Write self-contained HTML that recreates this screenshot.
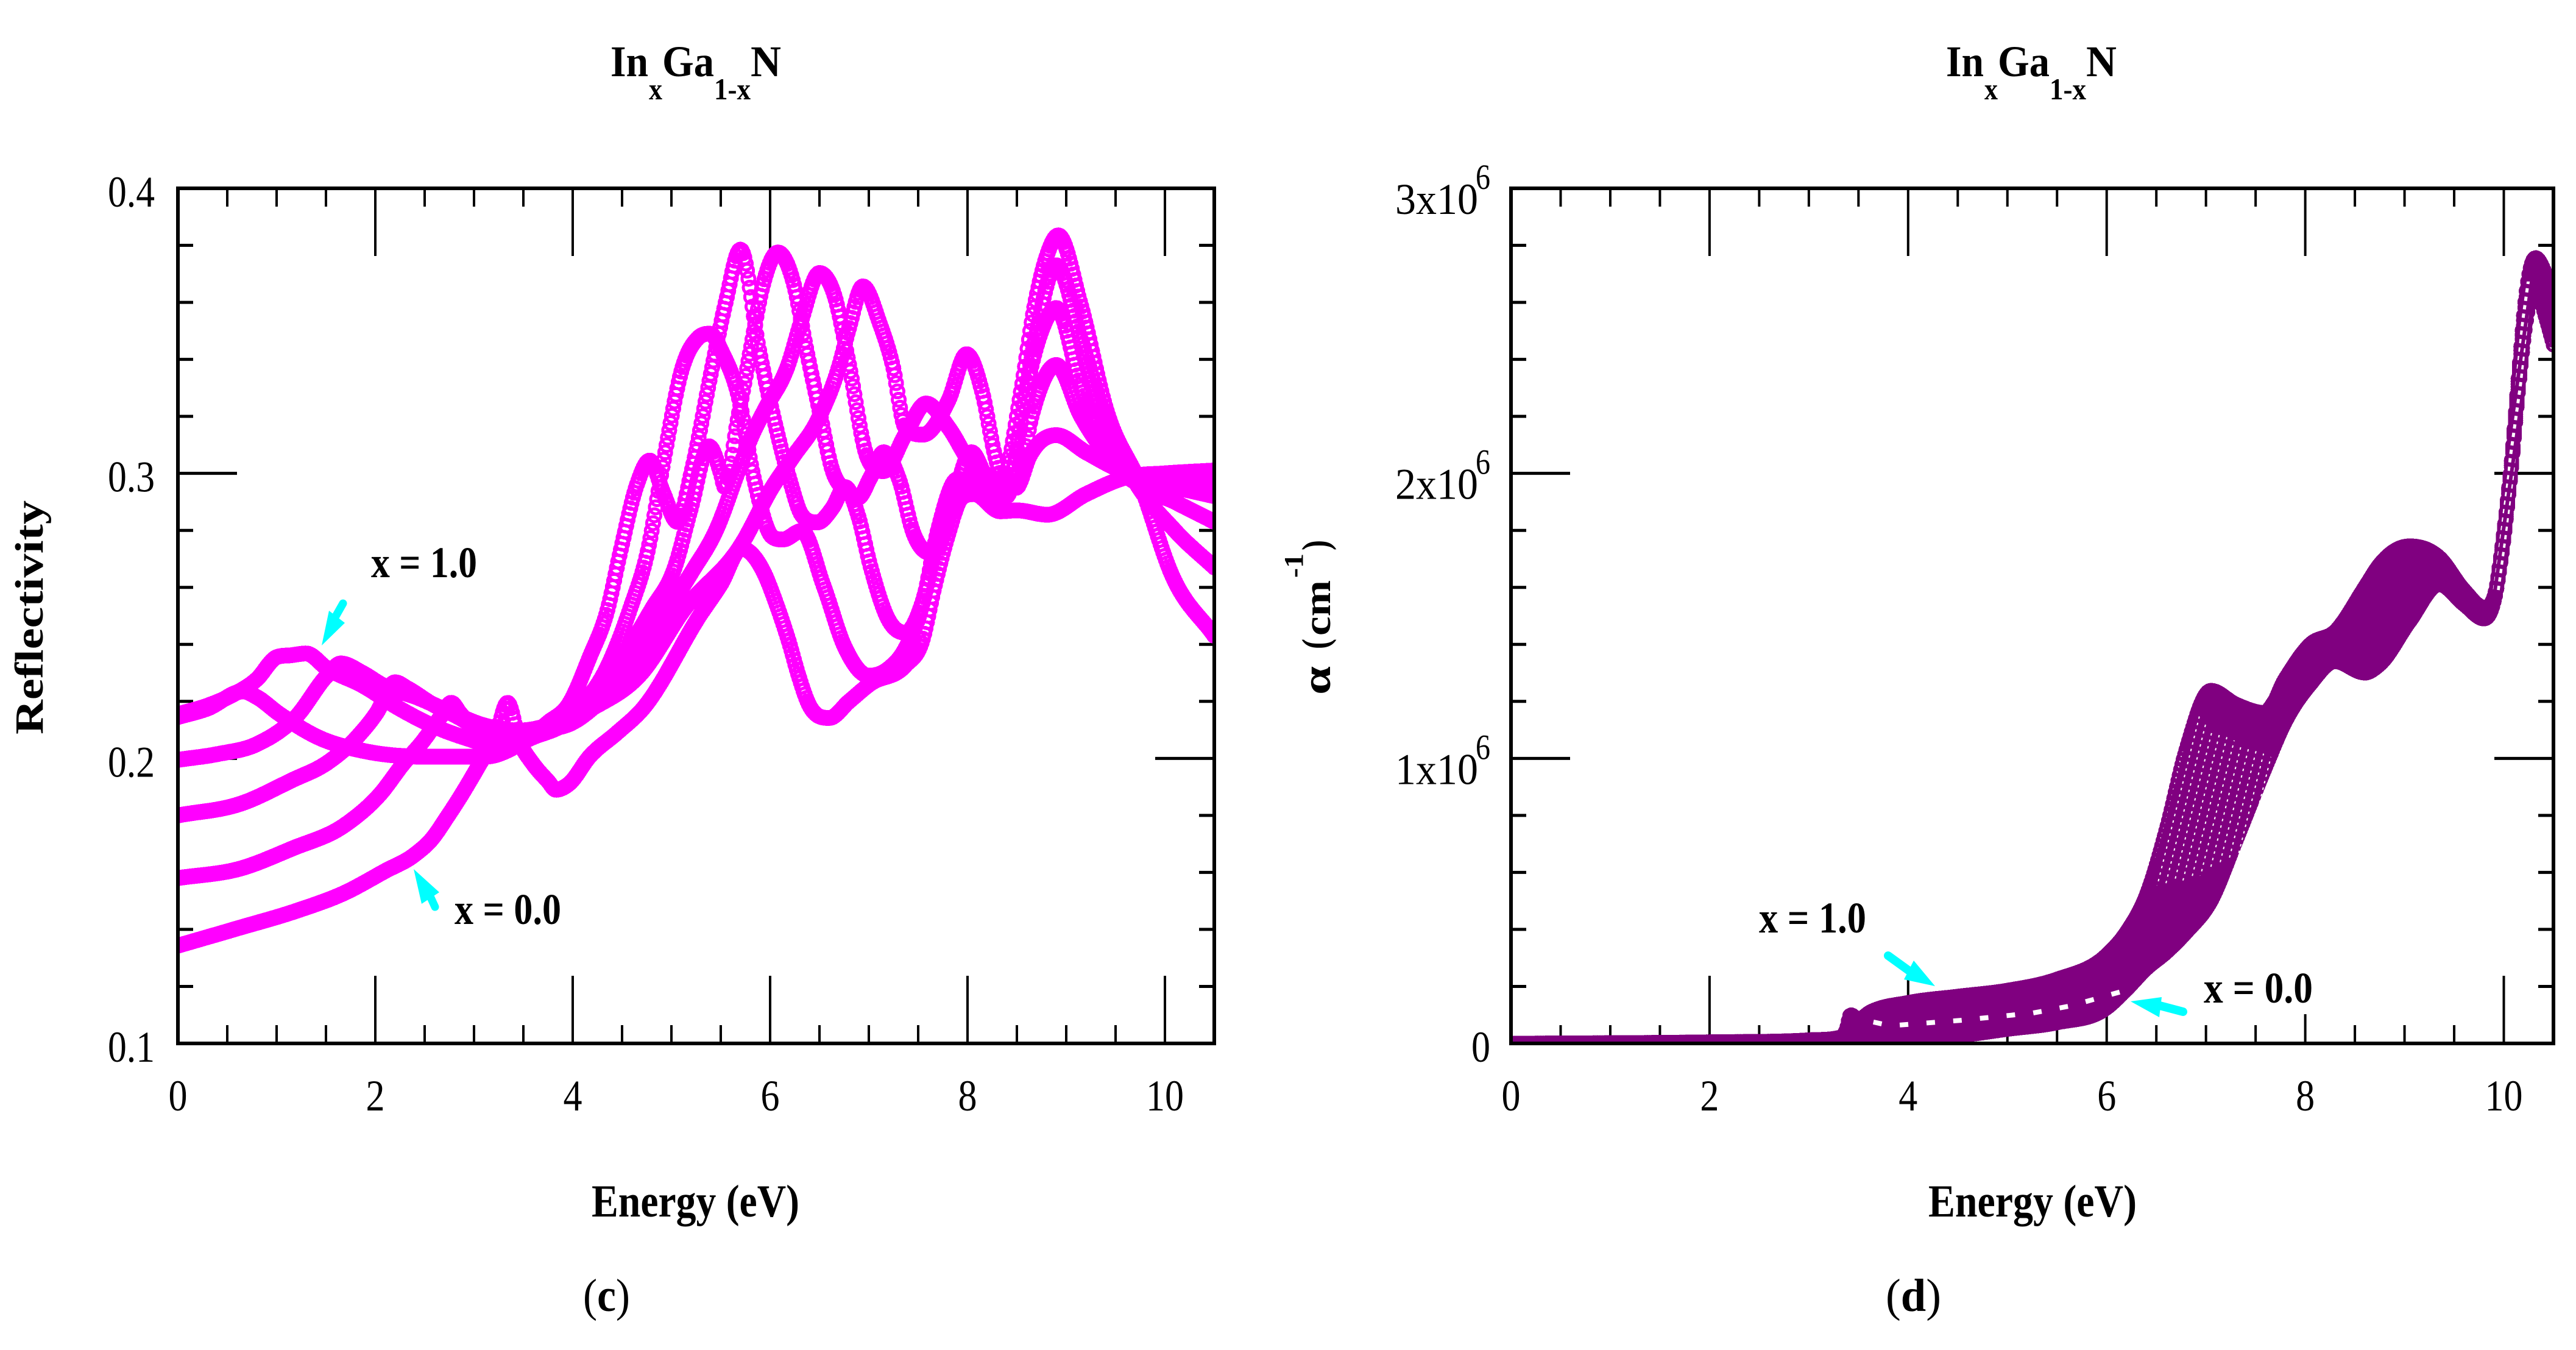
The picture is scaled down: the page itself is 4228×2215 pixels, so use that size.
<!DOCTYPE html>
<html lang="en">
<head>
<meta charset="utf-8">
<title>InxGa1-xN reflectivity and absorption</title>
<style>
html,body{margin:0;padding:0;background:#fff;}
svg{display:block;}
text{font-family:"Liberation Serif",serif;fill:#000;}
</style>
</head>
<body>
<svg id="figure" xmlns="http://www.w3.org/2000/svg" width="4228" height="2215" viewBox="0 0 4228 2215">
  <rect x="0" y="0" width="4228" height="2215" fill="#fff"/>
  <defs>
    <clipPath id="clip-c"><rect x="292" y="309" width="1701" height="1403"/></clipPath>
    <clipPath id="clip-d"><rect x="2480" y="309" width="1711" height="1403"/></clipPath>
    <pattern id="stipple" width="13" height="11" patternUnits="userSpaceOnUse" patternTransform="rotate(14)">
      <rect x="3" y="3" width="2" height="4" fill="#fff"/>
    </pattern>
    <pattern id="ring-holes" width="11" height="14" patternUnits="userSpaceOnUse" patternTransform="rotate(8)">
      <rect x="2" y="3" width="5" height="7" fill="#fff"/>
    </pattern>
  </defs>
  <g id="panel-c"></g>
  <g id="panel-d"></g>

  <g font-weight="bold">
    <text x="1002" y="125" font-size="72" textLength="62" lengthAdjust="spacingAndGlyphs">In</text>
    <text x="1065" y="163" font-size="50" textLength="22" lengthAdjust="spacingAndGlyphs">x</text>
    <text x="1087" y="125" font-size="72" textLength="85" lengthAdjust="spacingAndGlyphs">Ga</text>
    <text x="1172" y="163" font-size="50" textLength="60" lengthAdjust="spacingAndGlyphs">1-x</text>
    <text x="1232" y="125" font-size="72" textLength="50" lengthAdjust="spacingAndGlyphs">N</text>
  </g>
  <g font-weight="bold">
    <text x="3194" y="125" font-size="72" textLength="62" lengthAdjust="spacingAndGlyphs">In</text>
    <text x="3257" y="163" font-size="50" textLength="22" lengthAdjust="spacingAndGlyphs">x</text>
    <text x="3279" y="125" font-size="72" textLength="85" lengthAdjust="spacingAndGlyphs">Ga</text>
    <text x="3364" y="163" font-size="50" textLength="60" lengthAdjust="spacingAndGlyphs">1-x</text>
    <text x="3424" y="125" font-size="72" textLength="50" lengthAdjust="spacingAndGlyphs">N</text>
  </g>

  <text x="971" y="1996" font-size="75" font-weight="bold" textLength="341" lengthAdjust="spacingAndGlyphs">Energy (eV)</text>
  <text x="3165" y="1996" font-size="75" font-weight="bold" textLength="342" lengthAdjust="spacingAndGlyphs">Energy (eV)</text>
  <text transform="translate(70,1205) rotate(-90)" font-size="66" font-weight="bold" textLength="384" lengthAdjust="spacingAndGlyphs">Reflectivity</text>

  <g font-weight="bold">
    <text transform="translate(2183,1140) rotate(-90)" font-size="66" textLength="47" lengthAdjust="spacingAndGlyphs" font-family="'Liberation Serif','DejaVu Serif',serif">α</text>
    <text transform="translate(2180,1065) rotate(-90)" font-size="62" textLength="17" lengthAdjust="spacingAndGlyphs">(</text>
    <text transform="translate(2183,1043) rotate(-90)" font-size="62" textLength="91" lengthAdjust="spacingAndGlyphs">cm</text>
    <text transform="translate(2138,948) rotate(-90)" font-size="44" textLength="40" lengthAdjust="spacingAndGlyphs">-1</text>
    <text transform="translate(2180,903) rotate(-90)" font-size="62" textLength="17" lengthAdjust="spacingAndGlyphs">)</text>
  </g>

  <text x="957" y="2151" font-size="76" textLength="77" lengthAdjust="spacingAndGlyphs">(<tspan font-weight="bold">c</tspan>)</text>
  <text x="3095" y="2151" font-size="76" textLength="91" lengthAdjust="spacingAndGlyphs">(<tspan font-weight="bold">d</tspan>)</text>

  <text x="609" y="947" font-size="72" font-weight="bold" textLength="174" lengthAdjust="spacingAndGlyphs">x = 1.0</text>
  <text x="746" y="1516" font-size="72" font-weight="bold" textLength="175" lengthAdjust="spacingAndGlyphs">x = 0.0</text>
  <text x="2887" y="1530" font-size="72" font-weight="bold" textLength="176" lengthAdjust="spacingAndGlyphs">x = 1.0</text>
  <text x="3617" y="1645" font-size="72" font-weight="bold" textLength="179" lengthAdjust="spacingAndGlyphs">x = 0.0</text>

  <g fill="#0ff" stroke="#0ff">
    <line x1="563" y1="990" x2="546" y2="1020" stroke-width="13" stroke-linecap="round"/>
    <polygon points="528,1059 540,1002 566,1022" stroke="none"/>
  </g>
  <g fill="#0ff" stroke="#0ff">
    <line x1="714" y1="1488" x2="702" y2="1462" stroke-width="13" stroke-linecap="round"/>
    <polygon points="679,1426 692,1483 721,1464" stroke="none"/>
  </g>
  <g fill="#0ff" stroke="#0ff">
    <line x1="3099" y1="1568" x2="3135" y2="1594" stroke-width="14" stroke-linecap="round"/>
    <polygon points="3176,1618 3125,1607 3141,1576" stroke="none"/>
  </g>
  <g fill="#0ff" stroke="#0ff">
    <line x1="3583" y1="1660" x2="3545" y2="1650" stroke-width="14" stroke-linecap="round"/>
    <polygon points="3497,1643 3544,1669 3548,1636" stroke="none"/>
  </g>
</svg>

<script>
// ---------- Panel (c): reflectivity values ----------
const energyA = [0,.3,.66,.8,1.02,1.44,1.87,2.51,3.11,3.46,3.75,3.96,4.17,4.35,4.49,4.65,4.78,4.92,5.06,5.2,5.4,5.55,5.7,5.89,6.02,6.2,6.32,6.48,6.63,6.76,6.89,7.02,7.2,7.37,7.54,7.67,7.81,8.0,8.2,8.37,8.54,8.68,8.8,8.92,9.15,9.41,9.76,10.07,10.5];
const reflA = [.2145,.2175,.2235,.2215,.2158,.2071,.2027,.2006,.2006,.205,.2126,.219,.2354,.2518,.2736,.296,.3045,.293,.283,.300,.335,.36,.3785,.343,.322,.2976,.2854,.2828,.2878,.2952,.2854,.267,.2486,.2441,.2545,.2727,.289,.297,.294,.298,.3284,.3589,.376,.3835,.3589,.322,.2952,.2644,.243];
const energyB = [0,.3,.56,.8,1.0,1.15,1.3,1.51,1.87,2.22,2.58,2.93,3.29,3.57,4.0,4.35,4.58,4.76,4.93,5.11,5.27,5.39,5.52,5.67,5.84,6.02,6.13,6.32,6.54,6.76,7.0,7.2,7.37,7.54,7.7,7.9,8.15,8.4,8.55,8.7,8.9,9.15,9.41,9.65,10.1,10.5];
const reflB = [.2155,.2185,.2224,.2278,.2355,.2362,.2368,.2316,.2256,.218,.2115,.207,.2038,.207,.2158,.232,.2523,.2727,.3061,.3369,.3475,.349,.342,.3284,.2976,.2778,.2768,.2798,.2608,.2388,.229,.2315,.2385,.2535,.28,.298,.296,.292,.32,.35,.373,.347,.318,.30,.28,.267];
const energyC = [0,.4,.8,1.2,1.51,1.65,1.87,2.08,2.43,2.79,3.11,3.46,3.75,4.0,4.35,4.8,5.03,5.2,5.38,5.5,5.54,5.67,5.8,5.93,6.08,6.24,6.37,6.5,6.63,6.76,6.89,7.02,7.15,7.31,7.45,7.63,7.81,8.04,8.2,8.33,8.45,8.6,8.75,8.9,9.15,9.41,9.7,10.1,10.5];
const reflC = [.1995,.2015,.205,.2147,.229,.2333,.23,.2256,.2213,.2158,.2115,.2098,.2115,.2147,.2278,.2523,.2666,.288,.3095,.30,.2952,.3185,.3431,.3664,.3775,.3664,.3431,.322,.3012,.294,.2914,.2988,.3074,.2976,.2792,.272,.2854,.3074,.2976,.292,.30,.33,.35,.358,.33,.31,.297,.29,.283];
const energyD = [0,.627,1.16,1.51,1.83,2.01,2.2,2.33,2.58,2.83,3.11,3.29,3.57,4.0,4.35,4.7,4.97,5.2,5.46,5.69,5.81,5.94,6.18,6.32,6.5,6.65,6.8,6.98,7.15,7.37,7.58,7.81,8.03,8.26,8.5,8.65,8.9,9.15,9.4,9.7,10.1,10.5];
const reflD = [.18,.184,.1924,.1984,.208,.2158,.2267,.2245,.219,.2147,.2093,.208,.2098,.2126,.2224,.2365,.2523,.265,.2806,.302,.3128,.322,.3378,.354,.3703,.3626,.3382,.3061,.3008,.3136,.3245,.316,.3038,.2985,.295,.32,.338,.32,.307,.297,.295,.292];
const energyE = [0,.627,1.16,1.69,2.05,2.29,2.47,2.66,2.77,2.86,3.11,3.46,3.75,4.17,4.7,5.13,5.71,6.02,6.23,6.49,6.7,6.8,6.94,7.11,7.24,7.37,7.55,7.81,7.99,8.15,8.28,8.37,8.5,8.63,8.9,9.2,9.63,10.1,10.5];
const reflE = [.158,.1613,.1684,.1766,.1875,.1984,.2055,.2145,.2195,.2158,.208,.207,.2093,.217,.23,.2523,.2751,.295,.3057,.3192,.3378,.351,.3656,.3527,.3382,.316,.3136,.3258,.3418,.3284,.3061,.2963,.2955,.3061,.3134,.3074,.30,.298,.297];
const energyF = [0,.627,1.2,1.7,2.1,2.39,2.58,2.72,2.86,3.04,3.23,3.34,3.46,3.6,3.75,3.83,3.96,4.17,4.45,4.7,5.3,5.5,5.71,5.93,6.06,6.2,6.28,6.41,6.6,6.8,7.02,7.37,7.54,7.67,7.81,7.94,8.07,8.33,8.5,8.81,9.2,9.63,10.0,10.5];
const reflF = [.1343,.1406,.1465,.153,.1605,.166,.172,.179,.1865,.197,.209,.2195,.206,.198,.192,.189,.191,.2006,.209,.217,.2508,.261,.2736,.2657,.2545,.2398,.23,.2178,.2142,.22,.2263,.2326,.2411,.2608,.2792,.2914,.2927,.2867,.287,.2855,.2927,.2988,.30,.301];

// ---------- Panel (d): absorption values (units of 10^6 cm^-1) ----------
const energyGrid = [0,2,3,3.3,3.38,3.42,3.5,3.62,4,4.5,5,5.5,6,6.2,6.4,6.6,6.8,7.05,7.3,7.6,7.8,8.05,8.3,8.6,8.75,9.05,9.35,9.6,9.8,9.9,10,10.08,10.15,10.22,10.32,10.42,10.5];
const absorption1 = [0,0,0,0,0,0,0,0,.008,.026,.05,.073,.125,.19,.263,.32,.39,.5,.71,.97,1.13,1.26,1.34,1.30,1.33,1.48,1.61,1.54,1.49,1.55,1.77,2.03,2.30,2.52,2.65,2.55,2.45];
const absorption2 = [0,.002,.005,.008,.03,.09,.08,.09,.105,.118,.135,.16,.21,.26,.35,.5,.67,.88,1.03,1.13,1.21,1.31,1.38,1.36,1.42,1.56,1.64,1.56,1.50,1.55,1.775,2.035,2.31,2.54,2.67,2.58,2.48];
const absorption3 = [0,.003,.007,.012,.04,.095,.08,.095,.115,.13,.15,.177,.24,.3,.4,.57,.78,1.0,1.09,1.15,1.24,1.34,1.41,1.42,1.49,1.62,1.66,1.565,1.51,1.55,1.78,2.04,2.32,2.56,2.69,2.61,2.51];
const absorption4 = [0,.004,.009,.015,.045,.095,.082,.1,.125,.143,.162,.195,.26,.33,.44,.63,.87,1.08,1.13,1.16,1.26,1.365,1.425,1.49,1.56,1.68,1.68,1.575,1.52,1.555,1.785,2.045,2.33,2.58,2.71,2.64,2.54];
const absorption5 = [0,.005,.011,.018,.048,.1,.084,.105,.135,.155,.174,.21,.285,.36,.48,.69,.95,1.16,1.16,1.16,1.27,1.385,1.435,1.55,1.62,1.72,1.7,1.585,1.525,1.56,1.79,2.05,2.34,2.60,2.735,2.67,2.58];
const absorption6 = [0,.005,.012,.02,.05,.10,.085,.11,.143,.165,.186,.225,.31,.39,.52,.75,1.03,1.238,1.19,1.16,1.28,1.4,1.445,1.6,1.68,1.745,1.705,1.59,1.53,1.565,1.795,2.055,2.35,2.62,2.756,2.70,2.62];
const gapEnergy = [3.65,3.82,4.53,5.26,5.64,6.17];
const gapAbsorption = [.075,.062,.081,.107,.132,.184];
const stippleEnergy = [6.45,6.89,7.05,7.75,7.42,6.9];
const stippleAbsorption = [.55,1.165,1.1,.99,.684,.58];
const holeEnergy = [9.885,9.955,10.035,10.095,10.165,10.215,10.285,10.235,10.165,10.105,10.025,9.955];
const holeAbsorption = [1.58,1.766,1.995,2.245,2.497,2.673,2.673,2.497,2.245,1.995,1.766,1.58];

// ---------- Axis labels ----------
const xTickLabels = ['0','2','4','6','8','10'];
const reflTickLabels = ['0.1','0.2','0.3','0.4'];
const absTickLabels = ['0','1','2','3'];

const SVG_NS = 'http://www.w3.org/2000/svg';
const ENERGY_MAX = 10.5;
const ENERGY_STEP = 0.0136;
const PLOT_TOP = 309, PLOT_BOTTOM = 1712;

function make(tag, attrs, parent) {
  const el = document.createElementNS(SVG_NS, tag);
  for (const k in attrs) el.setAttribute(k, attrs[k]);
  if (parent) parent.appendChild(el);
  return el;
}

// Smooth cubic through the read values, slope-limited at turning points
function curveFn(xs, ys) {
  const n = xs.length, d = [], m = new Array(n);
  for (let i = 0; i < n - 1; i++) d.push((ys[i + 1] - ys[i]) / (xs[i + 1] - xs[i]));
  m[0] = d[0]; m[n - 1] = d[n - 2];
  for (let i = 1; i < n - 1; i++) {
    if (d[i - 1] * d[i] <= 0) { m[i] = 0; continue; }
    const h0 = xs[i] - xs[i - 1], h1 = xs[i + 1] - xs[i];
    const s = (d[i - 1] * h1 + d[i] * h0) / (h0 + h1);
    const limit = 3 * Math.min(Math.abs(d[i - 1]), Math.abs(d[i]));
    m[i] = Math.sign(s) * Math.min(Math.abs(s), limit);
  }
  return function (x) {
    let i = 0;
    while (i < n - 2 && x > xs[i + 1]) i++;
    const h = xs[i + 1] - xs[i], t = (x - xs[i]) / h, t2 = t * t, t3 = t2 * t;
    return (2 * t3 - 3 * t2 + 1) * ys[i] + (t3 - 2 * t2 + t) * h * m[i] +
      (-2 * t3 + 3 * t2) * ys[i + 1] + (t3 - t2) * h * m[i + 1];
  };
}

function markerPath(xs, ys, xScale, yScale, r, withCross) {
  const f = curveFn(xs, ys);
  const steps = Math.round(ENERGY_MAX / ENERGY_STEP);
  let d = '';
  for (let k = 0; k <= steps; k++) {
    const e = k * ENERGY_STEP;
    const px = xScale(e), py = yScale(f(e));
    d += 'M' + (px - r).toFixed(1) + ' ' + py.toFixed(1) +
      'a' + r + ' ' + r + ' 0 1 0 ' + (2 * r) + ' 0' +
      'a' + r + ' ' + r + ' 0 1 0 ' + (-2 * r) + ' 0Z';
    if (withCross) {
      d += 'M' + (px - r).toFixed(1) + ' ' + py.toFixed(1) + 'h' + (2 * r) +
        'M' + px.toFixed(1) + ' ' + (py - r).toFixed(1) + 'v' + (2 * r);
    }
  }
  return d;
}

function labelWidth(s) {
  let w = 0;
  for (const c of s) w += c === '.' ? 15 : c === 'x' ? 43 : 31;
  return w;
}

function drawFrame(panel, left, right, xScale, yMajor, yMinorCount, yScale, shortTick) {
  const ticks = make('g', { stroke: '#000' }, panel);
  
  
  for (let i = 1; i <= 21; i++) {
    const e = i * 0.5;
    if (e > 10.25) continue;
    const major = i % 4 === 0;
    const len = major ? 111 : 30;
    const x = xScale(e);
    make('line', { x1: x, x2: x, y1: PLOT_TOP, y2: PLOT_TOP + len, 'stroke-width': 4 }, ticks);
    const bottomLen = (shortTick !== null && e === shortTick) ? 48 : len;
    make('line', { x1: x, x2: x, y1: PLOT_BOTTOM, y2: PLOT_BOTTOM - bottomLen, 'stroke-width': 4 }, ticks);
  }
  for (let i = 0; i < yMajor.length - 1; i++) {
    for (let j = 0; j < yMinorCount; j++) {
      const v = yMajor[i] + (yMajor[i + 1] - yMajor[i]) * j / yMinorCount;
      const y = yScale(v);
      if (i === 0 && j === 0) continue;
      const len = j === 0 ? 97 : 25;
      make('line', { x1: left, x2: left + len, y1: y, y2: y, 'stroke-width': 5 }, ticks);
      make('line', { x1: right, x2: right - len, y1: y, y2: y, 'stroke-width': 5 }, ticks);
    }
  }
}

function drawBox(panel, left, right) {
  const box = make('rect', { x: left, y: PLOT_TOP, width: right - left, height: PLOT_BOTTOM - PLOT_TOP, fill: 'none', stroke: '#000', 'stroke-width': 6 }, panel);
  
  
}

function drawXLabels(panel, xScale) {
  xTickLabels.forEach(function (label) {
    const t = make('text', { x: xScale(Number(label)), y: 1822, 'font-size': 72, 'text-anchor': 'middle', textLength: labelWidth(label), lengthAdjust: 'spacingAndGlyphs' }, panel);
    t.textContent = label;
    
    
  });
}

// ---------- Panel (c) ----------
(function () {
  const panel = document.getElementById('panel-c');
  const x = function (e) { return 292 + (e / ENERGY_MAX) * 1701; };
  const y = function (v) { return PLOT_BOTTOM - (v - 0.1) / 0.3 * (PLOT_BOTTOM - PLOT_TOP); };
  drawFrame(panel, 292, 1993, x, [0.1, 0.2, 0.3, 0.4], 5, y, null);

  const curves = make('g', { 'clip-path': 'url(#clip-c)', fill: 'none', stroke: '#ff00ff', 'stroke-width': 5, 'shape-rendering': 'crispEdges' }, panel);
  
  
  const seriesList = [[energyA, reflA], [energyB, reflB], [energyC, reflC], [energyD, reflD], [energyE, reflE], [energyF, reflF]];
  seriesList.forEach(function (s, i) {
    const p = make('path', { d: markerPath(s[0], s[1], x, y, 10.5, false) }, curves);
    
    
  });

  drawBox(panel, 292, 1993);
  drawXLabels(panel, x);
  reflTickLabels.forEach(function (label) {
    const t = make('text', { x: 254, y: y(Number(label)) + 30, 'font-size': 72, 'text-anchor': 'end', textLength: labelWidth(label), lengthAdjust: 'spacingAndGlyphs' }, panel);
    t.textContent = label;
    
    
  });
})();

// ---------- Panel (d) ----------
(function () {
  const panel = document.getElementById('panel-d');
  const x = function (e) { return 2480 + (e / ENERGY_MAX) * 1711; };
  const y = function (v) { return PLOT_BOTTOM - v / 3 * (PLOT_BOTTOM - PLOT_TOP); };
  drawFrame(panel, 2480, 4191, x, [0, 1, 2, 3], 5, y, 8);

  const curves = make('g', { 'clip-path': 'url(#clip-d)' }, panel);
  
  

  // Solid band between the outer series
  const low = curveFn(energyGrid, absorption1), high = curveFn(energyGrid, absorption6);
  let upperEdge = '', lowerEdge = '';
  for (let k = 345; k <= 985; k++) {
    const e = k / 100;
    upperEdge += x(e).toFixed(1) + ',' + y(high(e)).toFixed(1) + ' ';
    lowerEdge = x(e).toFixed(1) + ',' + y(low(e)).toFixed(1) + ' ' + lowerEdge;
  }
  const band = make('polygon', { points: upperEdge + lowerEdge, fill: '#800080' }, curves);
  
  

  const markers = make('g', { fill: 'none', stroke: '#800080', 'stroke-width': 5, 'shape-rendering': 'crispEdges' }, curves);
  [absorption1, absorption2, absorption3, absorption4, absorption5, absorption6].forEach(function (s, i) {
    const p = make('path', { d: markerPath(energyGrid, s, x, y, 10, true) }, markers);
    
    
  });

  const gapPts = gapEnergy.map(function (e, i) { return x(e).toFixed(1) + ',' + y(gapAbsorption[i]).toFixed(1); }).join(' ');
  const gap = make('polyline', { points: gapPts, fill: 'none', stroke: '#fff', 'stroke-width': 8, 'stroke-dasharray': '14 30' }, curves);
  
  

  const stipPts = stippleEnergy.map(function (e, i) { return x(e).toFixed(1) + ',' + y(stippleAbsorption[i]).toFixed(1); }).join(' ');
  const stip = make('polygon', { points: stipPts, fill: 'url(#stipple)' }, curves);
  
  

  const holePts = holeEnergy.map(function (e, i) { return x(e).toFixed(1) + ',' + y(holeAbsorption[i]).toFixed(1); }).join(' ');
  const holes = make('polygon', { points: holePts, fill: 'url(#ring-holes)' }, curves);
  
  

  drawBox(panel, 2480, 4191);
  drawXLabels(panel, x);

  absTickLabels.forEach(function (label) {
    const v = Number(label);
    if (v === 0) {
      const z = make('text', { x: 2446, y: PLOT_BOTTOM + 30, 'font-size': 72, 'text-anchor': 'end', textLength: 31, lengthAdjust: 'spacingAndGlyphs' }, panel);
      z.textContent = '0';
      
      
      return;
    }
    const t = make('text', { x: 2290, y: y(v) + 42, 'font-size': 72, textLength: 136, lengthAdjust: 'spacingAndGlyphs' }, panel);
    t.textContent = label + 'x10';
    
    
    const e = make('text', { x: 2422, y: y(v) + 1, 'font-size': 58, textLength: 24, lengthAdjust: 'spacingAndGlyphs' }, panel);
    e.textContent = '6';
    
    
  });
})();
</script>
</body>
</html>
